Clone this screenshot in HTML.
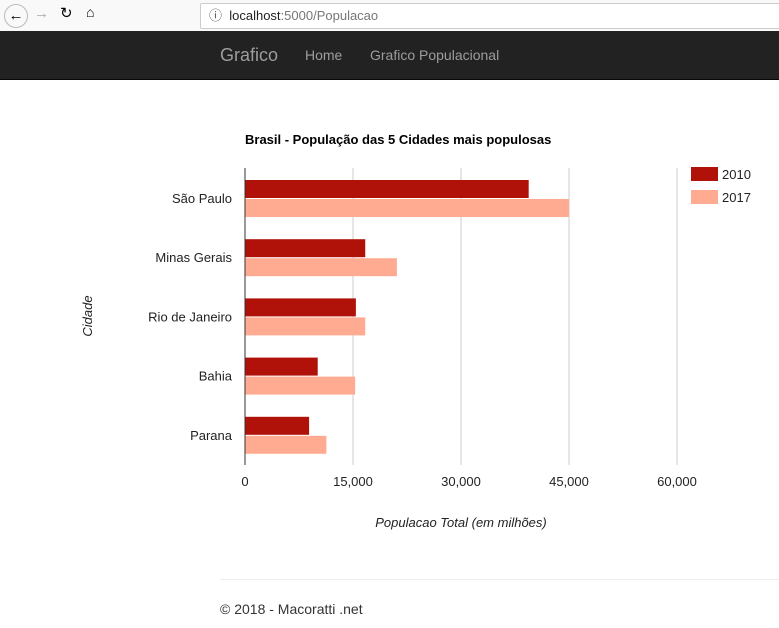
<!DOCTYPE html>
<html><head><meta charset="utf-8">
<style>
body{margin:0;width:779px;height:628px;background:#fff;font-family:"Liberation Sans",Arial,sans-serif;position:relative;overflow:hidden}
.chrome{position:absolute;left:0;top:0;width:779px;height:31px;background:#f9f9f9}
.url{position:absolute;left:200px;top:3px;width:585px;height:24px;border:1px solid #ccc;border-radius:2px;background:#fff;font-size:13px;line-height:24px;color:#222}
.nav{position:absolute;left:0;top:31px;width:779px;height:48px;background:#222;border-bottom:1px solid #080808}
.nav span{position:absolute;color:#9d9d9d;top:0;line-height:48px}
</style></head><body>
<div class="chrome">
 <span style="position:absolute;left:4px;top:4px;width:22px;height:22px;border:1px solid #bbb;border-radius:50%;text-align:center;line-height:21px;font-size:15px">←</span>
 <span style="position:absolute;left:34px;top:5px;color:#aaa;font-size:15px">→</span>
 <span style="position:absolute;left:60px;top:4px;font-size:15px">↻</span>
 <span style="position:absolute;left:86px;top:4px;font-size:14px">⌂</span>
 <div class="url"><span style="color:#555;margin-left:8px">ⓘ</span>&nbsp; localhost<span style="color:#777">:5000/Populacao</span></div>
</div>
<div class="nav">
 <span style="left:220px;font-size:18px">Grafico</span>
 <span style="left:305px;font-size:14px">Home</span>
 <span style="left:370px;font-size:14px">Grafico Populacional</span>
</div>
<svg id="chart" width="779" height="628" style="position:absolute;left:0;top:0" font-family="Liberation Sans, Arial, sans-serif"></svg>
<div style="position:absolute;left:220px;top:579px;width:559px;border-top:1px solid #eee"></div>
<div style="position:absolute;left:220px;top:601px;font-size:14px;color:#333">© 2018 - Macoratti .net</div>
<script>
const categories=["São Paulo","Minas Gerais","Rio de Janeiro","Bahia","Parana"];
const series2010=[39400,16700,15400,10100,8900];
const series2017=[45000,21100,16700,15300,11300];
const ticks=[0,15000,30000,45000,60000];
const tickLabels=["0","15,000","30,000","45,000","60,000"];
const NS="http://www.w3.org/2000/svg";
const svg=document.getElementById('chart');
const x0=245,x1=677,xmax=60000,top0=180,step=59.2;
const xs=v=>x0+(x1-x0)*v/xmax;
function el(t,a,txt){const e=document.createElementNS(NS,t);for(const k in a)e.setAttribute(k,a[k]);if(txt!=null)e.textContent=txt;svg.appendChild(e);return e;}
ticks.forEach((t,i)=>{
 if(i>0){const g=el('line',{x1:xs(t),x2:xs(t),y1:168,y2:465,stroke:'#ccc','stroke-width':1});
 
 }
 const l=el('text',{x:xs(t),y:486,'text-anchor':'middle','font-size':13,fill:'#222'},tickLabels[i]);
 
 
});
categories.forEach((c,i)=>{
 const y=top0+i*step;
 const b1=el('rect',{x:x0,y:y,width:xs(series2010[i])-x0,height:18,fill:'#b0120a'});
 
 
 const b2=el('rect',{x:x0,y:y+19,width:xs(series2017[i])-x0,height:18,fill:'#ffab91'});
 
 
 const l=el('text',{x:232,y:y+23,'text-anchor':'end','font-size':13,fill:'#222'},c);
 
 
});
const ax=el('line',{x1:x0,x2:x0,y1:168,y2:465,stroke:'#333','stroke-width':1});


const ti=el('text',{x:245,y:144,'font-size':13,'font-weight':'bold',fill:'#000'},'Brasil - População das 5 Cidades mais populosas');


const xt=el('text',{x:461,y:527,'text-anchor':'middle','font-size':13,'font-style':'italic',fill:'#222'},'Populacao Total (em milhões)');


const yt=el('text',{x:92,y:316,'text-anchor':'middle','font-size':13,'font-style':'italic',fill:'#222',transform:'rotate(-90 92 316)'},'Cidade');


[['2010','#b0120a',167],['2017','#ffab91',190]].forEach(([n,c,y])=>{
 const r=el('rect',{x:691,y:y,width:27,height:14,fill:c});
 
 
 const t=el('text',{x:722,y:y+12,'font-size':13,fill:'#222'},n);
 
 
});
</script>
</body></html>
